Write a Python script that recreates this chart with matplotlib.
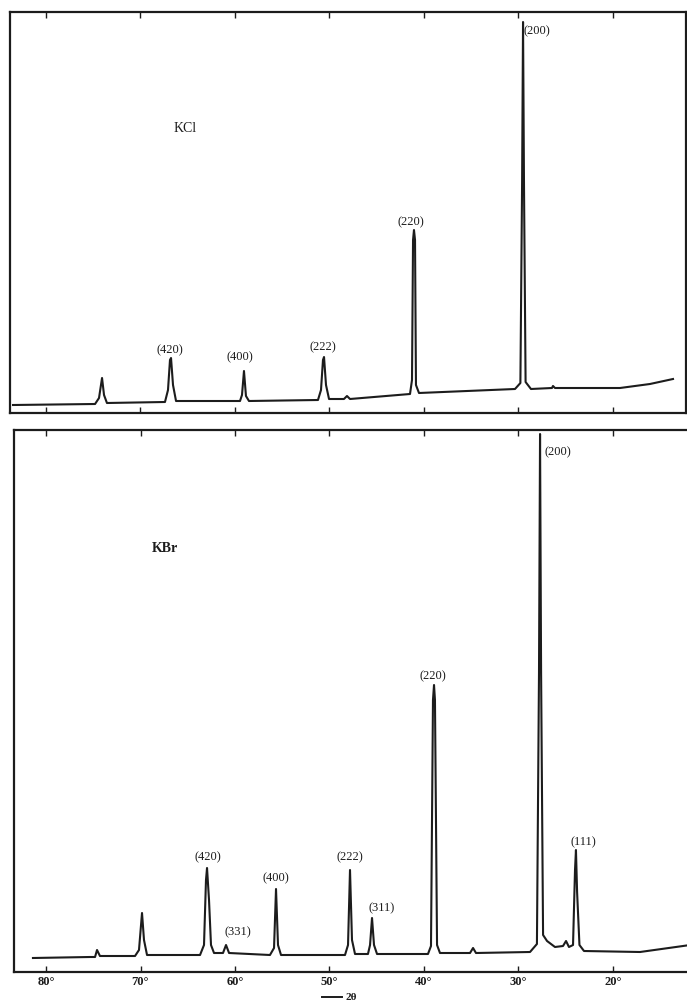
import matplotlib
matplotlib.use("Agg")
import matplotlib.pyplot as plt

# --- data (2-theta in degrees, intensity in arbitrary units) ---
kcl_2theta = [83.49, 74.81, 74.39, 74.07, 73.86, 73.55, 67.41, 67.09, 66.88, 66.77,
              66.56, 66.24, 59.47, 59.26, 59.05, 58.84, 58.52, 51.22, 50.90, 50.69,
              50.58, 50.37, 50.05, 48.47, 48.15, 47.83, 41.48, 41.27, 41.16, 41.06,
              40.95, 40.85, 40.53, 30.37, 29.80, 29.62, 29.52, 29.42, 29.25, 28.68,
              26.46, 26.35, 26.14, 19.26, 16.09, 13.65]
kcl_counts = [8, 9, 15, 35, 18, 10, 11, 23, 53, 55,
              28, 12, 12, 18, 42, 17, 12, 13, 23, 53,
              56, 28, 14, 14, 17, 14, 19, 33, 173, 183,
              173, 28, 20, 24, 30, 230, 391, 230, 31, 24,
              25, 27, 25, 25, 29, 34]

kbr_2theta = [81.38, 75.34, 74.81, 74.60, 74.29, 70.58, 70.16, 69.84, 69.63, 69.31,
              63.70, 63.28, 63.07, 62.96, 62.75, 62.54, 62.22, 61.27, 60.95, 60.63,
              56.30, 55.87, 55.66, 55.45, 55.13, 48.36, 48.04, 47.83, 47.62, 47.30,
              45.93, 45.71, 45.50, 45.29, 44.97, 39.58, 39.26, 39.05, 38.94, 38.84,
              38.62, 38.31, 35.13, 34.81, 34.50, 28.78, 28.05, 27.83, 27.72, 27.61,
              27.40, 26.98, 26.14, 25.29, 24.97, 24.66, 24.23, 24.02, 23.92, 23.80,
              23.55, 23.07, 17.14, 12.59, 11.85]
kbr_counts = [14, 15, 15, 22, 16, 16, 22, 59, 32, 17,
              17, 27, 92, 104, 72, 27, 19, 19, 27, 19,
              17, 24, 83, 27, 17, 17, 27, 102, 32, 18,
              18, 27, 54, 27, 18, 18, 26, 272, 287, 272,
              27, 19, 19, 24, 19, 20, 28, 300, 538, 300,
              37, 31, 25, 26, 31, 25, 27, 102, 122, 80,
              27, 21, 20, 26, 27]

kcl_labels = ["(200)", "(220)", "(222)", "(400)", "(420)"]
kbr_labels = ["(200)", "(220)", "(222)", "(311)", "(400)", "(331)", "(420)", "(111)"]
tick_deg = [80, 70, 60, 50, 40, 30, 20]

W, H = 687, 1005
ink = "#1c1c1c"

fig = plt.figure(figsize=(W / 100, H / 100), dpi=100)
fig.patch.set_facecolor("white")


def px2deg(x):
    return 80 - (x - 46) / 9.45


def fx(x):
    return x / W


def fy(y):
    return 1 - y / H


# panel boxes in pixels: left, top, right, bottom
ax1 = fig.add_axes([fx(10), fy(413), fx(686 - 10), (413 - 12) / H])
ax2 = fig.add_axes([fx(14), fy(972), fx(692 - 14), (972 - 430) / H])

ax1.plot(kcl_2theta, kcl_counts, color=ink, lw=1.5, solid_joinstyle="round")
ax2.plot(kbr_2theta, kbr_counts, color=ink, lw=1.5, solid_joinstyle="round")

ax1.set_xlim(px2deg(10), px2deg(686))
ax1.set_ylim(0, 413 - 12)
ax2.set_xlim(px2deg(14), px2deg(692))
ax2.set_ylim(0, 972 - 430)

for ax in (ax1, ax2):
    for s in ax.spines.values():
        s.set_linewidth(1.6)
        s.set_color(ink)
    ax.set_yticks([])
    ax.set_xticks(tick_deg)
    ax.tick_params(axis="x", direction="in", length=4, width=1, color=ink,
                   top=True, bottom=True)
    ax.set_facecolor("white")

ax1.set_xticklabels([])
ax2.set_xticklabels([f"{d}°" for d in tick_deg], fontsize=9, fontweight="bold",
                    family="Liberation Serif", color=ink)
ax2.tick_params(axis="x", pad=3)

serif = dict(family="Liberation Serif", color=ink, fontsize=9, va="center")

# peak labels (pixel positions)
kcl_pos = [(537, 31), (411, 222), (323, 347), (240, 357), (170, 350)]
for lab, (x, y) in zip(kcl_labels, kcl_pos):
    fig.text(fx(x), fy(y), lab, ha="center", **serif)

kbr_pos = [(558, 452), (433, 676), (350, 857), (382, 908), (276, 878),
           (238, 932), (208, 857), (583, 842)]
for lab, (x, y) in zip(kbr_labels, kbr_pos):
    fig.text(fx(x), fy(y), lab, ha="center", **serif)

fig.text(fx(185), fy(128), "KCl", ha="center", family="Liberation Serif",
         color=ink, fontsize=10, va="center")
fig.text(fx(165), fy(548), "KBr", ha="center", family="Liberation Serif",
         color=ink, fontsize=10, va="center", fontweight="bold")

# 2-theta direction marker
fig.add_artist(plt.Line2D([fx(322), fx(342)], [fy(997), fy(997)], color=ink, lw=1.4))
fig.text(fx(346), fy(997), "2θ", ha="left", va="center", fontsize=8,
         family="Liberation Serif", color=ink, fontweight="bold")

fig.savefig("out.png", dpi=100, facecolor="white")
